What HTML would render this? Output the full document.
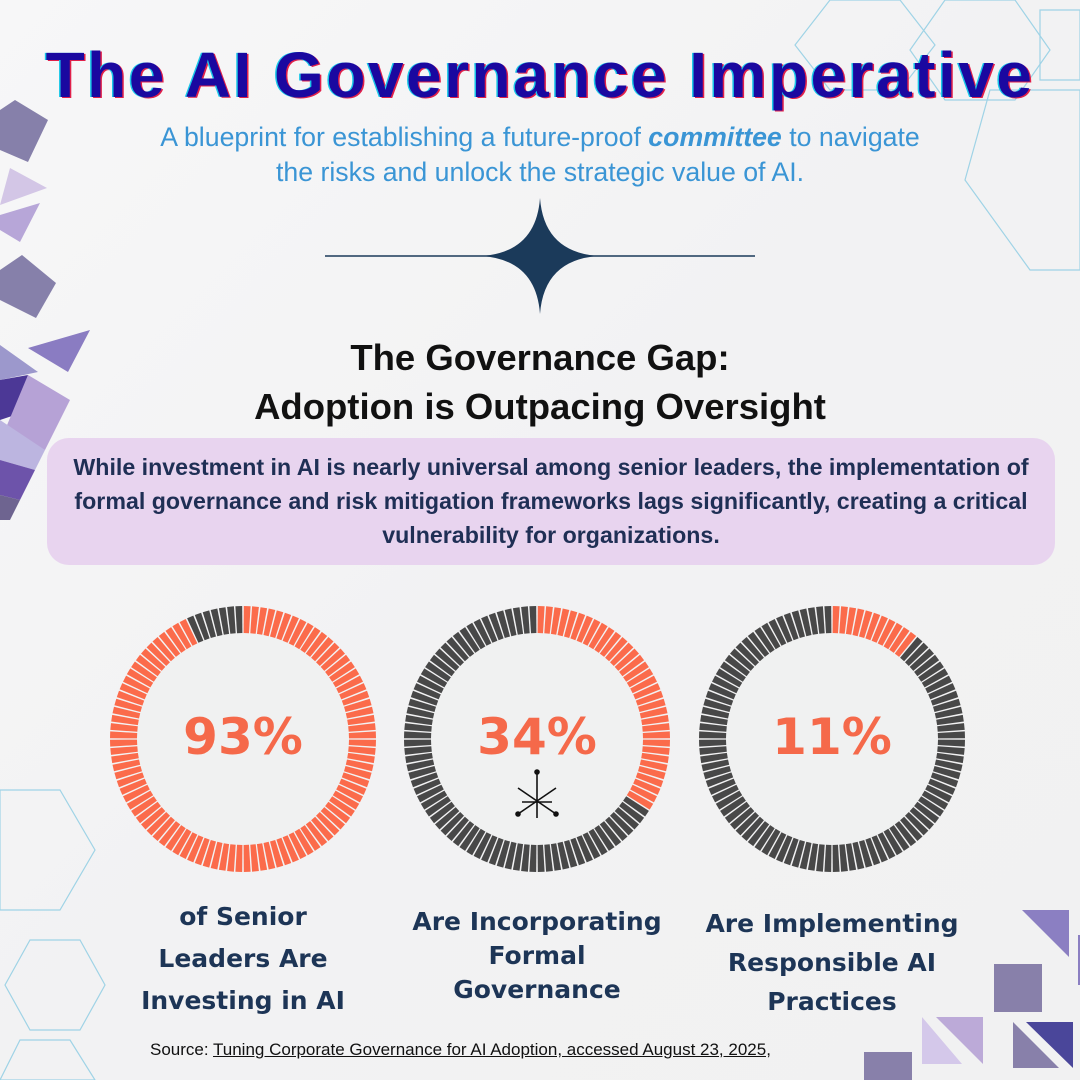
<!DOCTYPE html>
<html><head><meta charset="utf-8">
<style>
html,body{margin:0;padding:0}
body{width:1080px;height:1080px;position:relative;overflow:hidden;background:linear-gradient(135deg,#f7f7f8 0%,#f2f2f3 50%,#f1f1f2 100%);font-family:"Liberation Sans",sans-serif}
.abs{position:absolute}
.c{text-align:center}
</style></head><body>
<svg class="abs" style="left:0;top:0" width="1080" height="1080">
<g fill="none" stroke="#9fd3e6" stroke-width="1.2">
<polygon points="830,0 900,0 935,45 900,90 830,90 795,45"/>
<polygon points="945,0 1015,0 1050,50 1015,100 945,100 910,50"/>
<polygon points="1040,10 1080,10 1080,80 1040,80"/>
<polygon points="990,90 1080,90 1080,270 1030,270 965,180"/>
<polygon points="0,790 60,790 95,850 60,910 0,910"/>
<polygon points="30,940 80,940 105,985 80,1030 30,1030 5,985"/>
<polygon points="20,1040 70,1040 95,1080 0,1080"/>
</g>
<polygon points="15,100 48,120 28,162 0,150 0,110" fill="#8680aa"/>
<polygon points="10,168 47,188 0,205" fill="#d3c6e6"/>
<polygon points="40,203 20,242 0,230 0,215" fill="#b7a6d8"/>
<polygon points="22,255 56,283 36,318 0,300 0,270" fill="#8680aa"/>
<polygon points="28,348 90,330 68,372" fill="#8a7cc2"/>
<polygon points="0,345 38,372 0,380" fill="#9c98cc"/>
<polygon points="0,380 28,375 15,415 0,420" fill="#4c3896"/>
<polygon points="28,375 70,400 45,450 5,430" fill="#b6a2d6"/>
<polygon points="0,420 45,450 35,470 0,460" fill="#bcb5e0"/>
<polygon points="0,460 35,470 20,500 0,495" fill="#6d53aa"/>
<polygon points="0,495 20,500 10,520 0,520" fill="#6e6490"/>
<polygon points="1022,910 1069,910 1069,957" fill="#8b7fc2"/>
<polygon points="1078,935 1080,935 1080,985 1078,985" fill="#8b7fc2"/>
<rect x="994" y="964" width="48" height="48" fill="#8880aa"/>
<polygon points="922,1017 962,1064 922,1064" fill="#d4c8ea"/>
<polygon points="936,1017 983,1017 983,1064" fill="#bcaad8"/>
<polygon points="1013,1022 1059,1068 1013,1068" fill="#8880aa"/>
<polygon points="1026,1022 1073,1022 1073,1068" fill="#4a469a"/>
<rect x="864" y="1052" width="48" height="28" fill="#8880aa"/>
<line x1="325" y1="256" x2="755" y2="256" stroke="#1b3a5a" stroke-width="1.5"/>
<path d="M540,198 Q544,252 598,256 Q544,260 540,314 Q536,260 482,256 Q536,252 540,198Z" fill="#1b3a5a"/>
<g id="donuts"></g>
<g stroke="#111" stroke-width="1.6" fill="#111">
<line x1="537" y1="772" x2="537" y2="818"/><line x1="518" y1="814" x2="556" y2="788"/><line x1="556" y1="814" x2="518" y2="788"/>
<line x1="522" y1="802" x2="552" y2="802"/>
<circle cx="537" cy="772" r="2"/><circle cx="518" cy="814" r="2"/><circle cx="556" cy="814" r="2"/>
</g>
</svg>
<div class="abs c" style="left:0;width:1080px;top:38px;font-size:64px;font-weight:bold;color:#1a08a0;text-shadow:-1.5px 0 #19c8e8,1.5px 1px #e0204a;letter-spacing:2.5px;white-space:nowrap">The AI Governance Imperative</div>
<div class="abs c" style="left:0;width:1080px;top:120px;font-size:26.7px;line-height:35px;color:#3a95d5;white-space:nowrap">A blueprint for establishing a future-proof <b><i>committee</i></b> to navigate<br>the risks and unlock the strategic value of AI.</div>
<div class="abs c" style="left:0;width:1080px;top:333px;font-size:36.5px;line-height:49px;color:#111;font-weight:bold">The Governance Gap:<br>Adoption is Outpacing Oversight</div>
<div class="abs c" style="left:47px;width:1008px;top:438px;height:127px;border-radius:22px;background:#e8d4ef;box-sizing:border-box;padding-top:12px;font-size:23.2px;font-weight:bold;line-height:34px;color:#1f2f55;white-space:nowrap">While investment in AI is nearly universal among senior leaders, the implementation of<br>formal governance and risk mitigation frameworks lags significantly, creating a critical<br>vulnerability for organizations.</div>
<div class="abs c" style="left:143px;width:200px;top:708px;font-size:50px;font-weight:bold;color:#f5694a;font-family:'DejaVu Sans',sans-serif">93%</div>
<div class="abs c" style="left:437px;width:200px;top:708px;font-size:50px;font-weight:bold;color:#f5694a;font-family:'DejaVu Sans',sans-serif">34%</div>
<div class="abs c" style="left:732px;width:200px;top:708px;font-size:50px;font-weight:bold;color:#f5694a;font-family:'DejaVu Sans',sans-serif">11%</div>
<div class="abs c" style="left:93px;width:300px;top:896px;font-size:25px;line-height:42px;color:#1d3556;font-family:'DejaVu Sans',sans-serif;font-weight:bold">of Senior<br>Leaders Are<br>Investing in AI</div>
<div class="abs c" style="left:387px;width:300px;top:905px;font-size:25px;line-height:34px;color:#1d3556;font-family:'DejaVu Sans',sans-serif;font-weight:bold">Are Incorporating<br>Formal<br>Governance</div>
<div class="abs c" style="left:682px;width:300px;top:904px;font-size:25px;line-height:39px;color:#1d3556;font-family:'DejaVu Sans',sans-serif;font-weight:bold">Are Implementing<br>Responsible AI<br>Practices</div>
<div class="abs" style="left:150px;top:1040px;font-size:17px;color:#111;white-space:nowrap">Source: <u>Tuning Corporate Governance for AI Adoption, accessed August 23, 2025,</u></div>
<script>
(function(){
var g=document.getElementById('donuts'),ns='http://www.w3.org/2000/svg';
var d=[[243,739,93],[537,739,34],[832,739,11]],N=100,R=133,r=106,gap=0.006;
d.forEach(function(o){
 var c=document.createElementNS(ns,'circle');c.setAttribute('cx',o[0]);c.setAttribute('cy',o[1]);c.setAttribute('r',r);c.setAttribute('fill','#f0f1f1');g.appendChild(c);
 for(var i=0;i<N;i++){
  var a1=(i/N)*2*Math.PI+gap, a2=((i+1)/N)*2*Math.PI-gap;
  var p=[[R,a1],[R,a2],[r,a2],[r,a1]].map(function(q){return (o[0]+q[0]*Math.sin(q[1])).toFixed(1)+','+(o[1]-q[0]*Math.cos(q[1])).toFixed(1)}).join(' ');
  var e=document.createElementNS(ns,'polygon');e.setAttribute('points',p);e.setAttribute('fill',i<o[2]?'#fb6b4b':'#484848');g.appendChild(e);
 }
});
})();
</script>
</body></html>
